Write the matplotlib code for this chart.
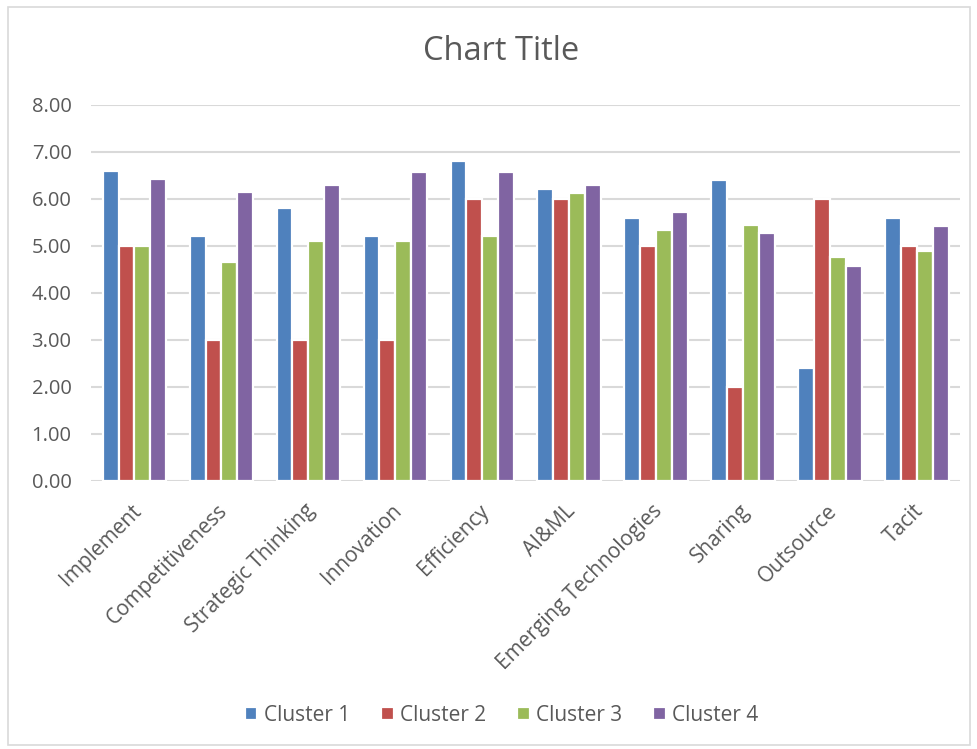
import matplotlib
matplotlib.use("Agg")
from matplotlib import pyplot as plt
from matplotlib.patches import Rectangle
from matplotlib.transforms import ScaledTranslation
import numpy as np

categories = ["Implement", "Competitiveness", "Strategic Thinking", "Innovation",
              "Efficiency", "AI&ML", "Emerging Technologies", "Sharing",
              "Outsource", "Tacit"]
cluster_1 = [6.60, 5.20, 5.80, 5.20, 6.80, 6.20, 5.60, 6.40, 2.40, 5.60]
cluster_2 = [5.00, 3.00, 3.00, 3.00, 6.00, 6.00, 5.00, 2.00, 6.00, 5.00]
cluster_3 = [5.00, 4.66, 5.11, 5.11, 5.22, 6.12, 5.33, 5.44, 4.77, 4.89]
cluster_4 = [6.43, 6.14, 6.29, 6.57, 6.57, 6.29, 5.72, 5.28, 4.57, 5.43]
series_names = ["Cluster 1", "Cluster 2", "Cluster 3", "Cluster 4"]
colors = ["#4F81BD", "#C0504D", "#9BBB59", "#8064A2"]

text_color = "#595959"
grid_color = "#D9D9D9"
plt.rcParams["font.family"] = ["Open Sans", "DejaVu Sans"]

fig = plt.figure(figsize=(9.78, 7.49), dpi=100)
ax = fig.add_axes([0.093, 0.358, 0.889, 0.502])

x = np.arange(len(categories))
step = 0.182
for i, (vals, name, c) in enumerate(zip([cluster_1, cluster_2, cluster_3, cluster_4],
                                        series_names, colors)):
    ax.bar(x + (i - 1.5) * step, vals, width=step, color=c, label=name,
           edgecolor="white", linewidth=1.6, zorder=3)

ax.set_xlim(-0.5, len(categories) - 0.5)
ax.set_ylim(0, 8)
ax.set_yticks(np.arange(0, 9, 1))
ax.set_yticklabels([f"{v:.2f}" for v in np.arange(0, 9, 1)])
ax.yaxis.grid(True, color=grid_color, linewidth=1.5, zorder=0)
ax.set_axisbelow(True)
for s in ax.spines.values():
    s.set_visible(False)
ax.tick_params(axis="both", length=0, colors=text_color)
ax.tick_params(axis="y", labelsize=14.5, pad=14)

ax.set_xticks(x)
ax.set_xticklabels(categories, rotation=45, ha="right", rotation_mode="anchor",
                   fontsize=15, color=text_color)
ax.tick_params(axis="x", pad=14)
# nudge the slanted labels a little to the left
shift = ScaledTranslation(-4 / 100, 0, fig.dpi_scale_trans)
for lbl in ax.get_xticklabels():
    lbl.set_transform(lbl.get_transform() + shift)

fig.text(0.512, 0.931, "Chart Title", ha="center", va="center",
         fontsize=23.5, color=text_color)

fig.legend(loc="center", bbox_to_anchor=(0.513, 0.045), ncol=4, frameon=False,
           fontsize=15, labelcolor=text_color, handlelength=0.6, handleheight=0.6,
           handletextpad=0.3, columnspacing=1.5)

# light outline around the whole chart
fig.patches.append(Rectangle((0.008, 0.006), 0.984, 0.984, transform=fig.transFigure,
                             fill=False, edgecolor=grid_color, linewidth=1.2))

fig.savefig("out.png", dpi=100)
